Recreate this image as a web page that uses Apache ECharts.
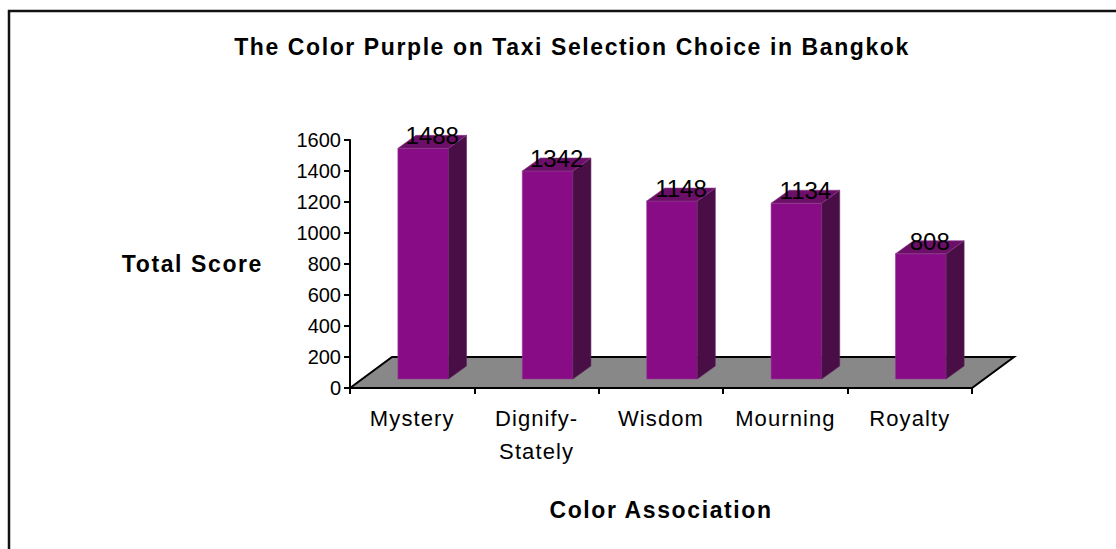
<!DOCTYPE html>
<html>
<head>
<meta charset="utf-8">
<script src="https://cdn.jsdelivr.net/npm/echarts@6/dist/echarts.min.js"></script>
<style>
  html, body { margin: 0; padding: 0; background: #ffffff; }
  #chart { width: 1116px; height: 549px; }
  /* wider tracking for the bold headings and the category names */
  #chart text[style*="bold"], #chart text[font-weight="bold"] { letter-spacing: 1.6px; }
  #chart text[style*="22px"], #chart text[font-size="22px"], #chart text[font-size="22"] { letter-spacing: 1.1px; }
</style>
</head>
<body>
<div id="chart"></div>
<script>
// Survey totals: associations people make with a purple taxi
const categories = ['Mystery', 'Dignify-\nStately', 'Wisdom', 'Mourning', 'Royalty'];
const totalScores = [1488, 1342, 1148, 1134, 808];
const scoreMin = 0;
const scoreMax = 1600;
const scoreStep = 200;

const FONT = '"Liberation Sans", Arial, sans-serif';

// 3D look: depth of the floor and of each bar (pixels)
const FLOOR_DX = 42, FLOOR_DY = -31;
const BAR_FRONT_DX = 11, BAR_FRONT_DY = -9;
const BAR_DX = 18, BAR_DY = -13;

const FRONT = '#870c85';
const SIDE = '#4a0e46';
const TOP = '#6b0f68';

const chart = echarts.init(document.getElementById('chart'), null, { renderer: 'svg' });

function renderFloor(params, api) {
  const band = api.size([1, 0])[0];
  const left = api.coord([0, scoreMin]);
  const right = api.coord([categories.length - 1, scoreMin]);
  const x0 = left[0] - band / 2;
  const x1 = right[0] + band / 2;
  const y = left[1];
  return {
    type: 'polygon',
    shape: {
      points: [[x0, y], [x0 + FLOOR_DX, y + FLOOR_DY], [x1 + FLOOR_DX, y + FLOOR_DY], [x1, y]]
    },
    style: { fill: '#888888', stroke: '#000000', lineWidth: 2 }
  };
}

function renderBar(params, api) {
  const idx = api.value(0);
  const val = api.value(1);
  const base = api.coord([idx, scoreMin]);
  const top = api.coord([idx, val]);
  const band = api.size([1, 0])[0];
  const w = band * 0.407;
  const fx = base[0] - w / 2 + BAR_FRONT_DX;
  const fyTop = top[1] + BAR_FRONT_DY;
  const fyBot = base[1] + BAR_FRONT_DY;
  return {
    type: 'group',
    children: [
      {
        type: 'rect',
        shape: { x: fx, y: fyTop, width: w, height: fyBot - fyTop },
        style: { fill: FRONT, stroke: '#9c3a99', lineWidth: 0.6 }
      },
      {
        type: 'polygon',
        shape: {
          points: [
            [fx + w, fyTop], [fx + w + BAR_DX, fyTop + BAR_DY],
            [fx + w + BAR_DX, fyBot + BAR_DY], [fx + w, fyBot]
          ]
        },
        style: { fill: SIDE, stroke: '#5e2a5b', lineWidth: 0.6 }
      },
      {
        type: 'polygon',
        shape: {
          points: [
            [fx, fyTop], [fx + BAR_DX, fyTop + BAR_DY],
            [fx + w + BAR_DX, fyTop + BAR_DY], [fx + w, fyTop]
          ]
        },
        style: { fill: TOP, stroke: '#8a3a87', lineWidth: 0.6 }
      },
      {
        type: 'text',
        style: {
          x: fx + w / 2 + BAR_DX / 2,
          y: fyTop + BAR_DY + 0.5,
          text: String(val),
          fill: '#000000',
          font: '24px ' + FONT,
          textAlign: 'center',
          textVerticalAlign: 'middle'
        },
        z2: 10
      }
    ]
  };
}

const option = {
  backgroundColor: '#ffffff',
  animation: false,
  graphic: [
    {
      type: 'rect',
      shape: { x: 9, y: 11, width: 1130, height: 560 },
      style: { fill: 'none', stroke: '#111111', lineWidth: 2.5 },
      silent: true
    },
    {
      type: 'text',
      x: 572,
      y: 47,
      style: {
        text: 'The Color Purple on Taxi Selection Choice in Bangkok',
        font: 'bold 23px ' + FONT,
        fill: '#000000',
        textAlign: 'center',
        textVerticalAlign: 'middle'
      }
    }
  ],
  grid: { left: 350, right: 144, top: 140, bottom: 161 },
  xAxis: {
    type: 'category',
    data: categories,
    boundaryGap: true,
    name: 'Color Association',
    nameLocation: 'middle',
    nameGap: 110,
    nameTextStyle: { fontFamily: FONT, fontWeight: 'bold', fontSize: 23, color: '#000000' },
    axisLine: { show: true, lineStyle: { color: '#000000', width: 2 } },
    axisTick: { show: true, length: 6, lineStyle: { color: '#000000', width: 2 } },
    axisLabel: {
      fontFamily: FONT, fontSize: 22, color: '#000000', lineHeight: 33,
      margin: 14, interval: 0
    },
    splitLine: { show: false }
  },
  yAxis: {
    type: 'value',
    min: scoreMin,
    max: scoreMax,
    interval: scoreStep,
    name: 'Total Score',
    nameLocation: 'middle',
    nameRotate: 0,
    nameGap: 87,
    nameTextStyle: { fontFamily: FONT, fontWeight: 'bold', fontSize: 23, color: '#000000', align: 'right' },
    axisLine: { show: true, lineStyle: { color: '#000000', width: 2 } },
    axisTick: { show: true, length: 6, lineStyle: { color: '#000000', width: 2 } },
    axisLabel: {
      fontFamily: FONT, fontSize: 20, color: '#000000', margin: 9,
      formatter: (v) => String(v)
    },
    splitLine: { show: false }
  },
  series: [
    {
      type: 'custom',
      renderItem: renderFloor,
      data: [[0, 0]],
      encode: { x: 0, y: 1 },
      silent: true,
      z: 1
    },
    {
      type: 'custom',
      renderItem: renderBar,
      data: categories.map((c, i) => [i, totalScores[i]]),
      encode: { x: 0, y: 1 },
      z: 3
    }
  ]
};

chart.setOption(option);
</script>
</body>
</html>
